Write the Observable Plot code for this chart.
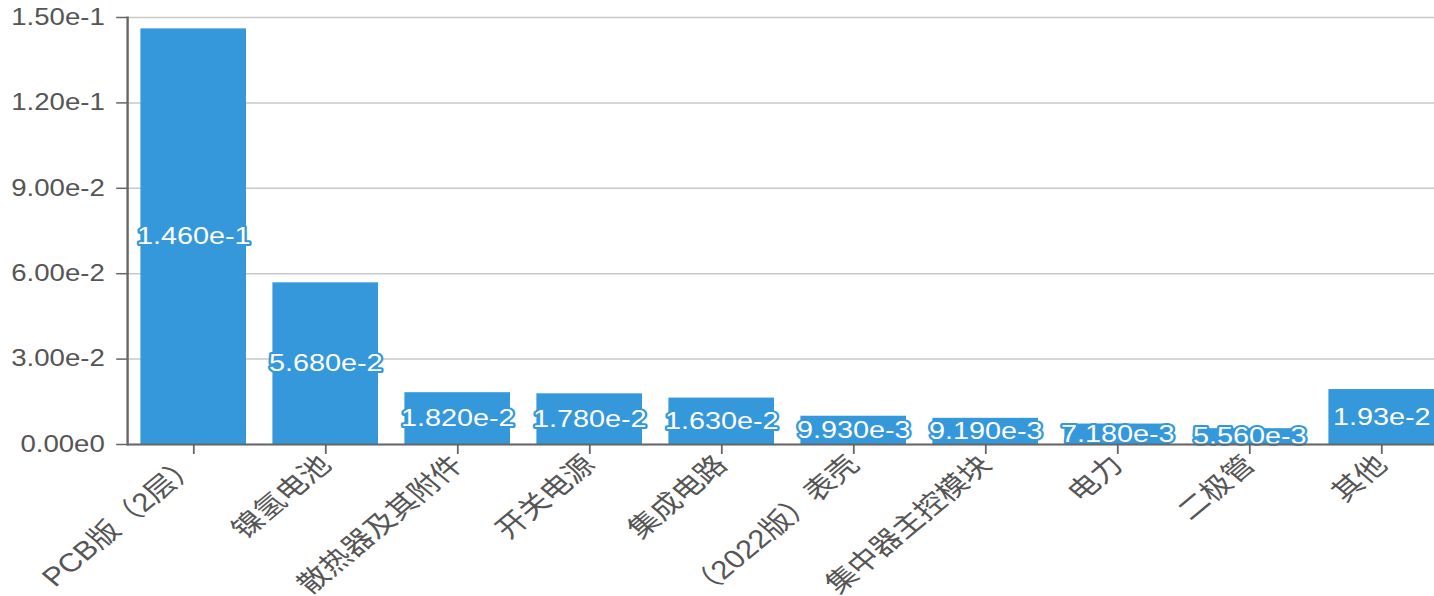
<!DOCTYPE html>
<html>
<head>
<meta charset="utf-8">
<script src="https://cdn.jsdelivr.net/npm/d3@7"></script>
<script src="https://cdn.jsdelivr.net/npm/@observablehq/plot@0.6"></script>
<style>
  html, body { margin: 0; padding: 0; background: #fff; overflow: hidden; }
  #chart { width: 1434px; height: 596px; overflow: hidden; }
  #chart svg { display: block; transform: scaleX(1.2); transform-origin: 0 0; overflow: visible; }
</style>
</head>
<body>
<div id="chart"></div>
<script>
const categories = ["PCB版（2层）", "镍氢电池", "散热器及其附件", "开关电源", "集成电路", "（2022版）表壳", "集中器主控模块", "电力", "二极管", "其他"];
const values = [0.146, 0.0568, 0.0182, 0.0178, 0.0163, 0.00993, 0.00919, 0.00718, 0.00556, 0.0193];
const valueLabels = ["1.460e-1", "5.680e-2", "1.820e-2", "1.780e-2", "1.630e-2", "9.930e-3", "9.190e-3", "7.180e-3", "5.560e-3", "1.93e-2"];
const yTicks = [0, 0.03, 0.06, 0.09, 0.12, 0.15];

const data = categories.map((c, i) => ({cat: c, value: values[i], label: valueLabels[i]}));
const fmt = d => d3.format(".2e")(d).replace("+", "");
const font = "'Liberation Sans', 'Noto Sans CJK SC', sans-serif";
const barColor = "#3498db";
const S = 1.2; // horizontal stretch of the reference picture

const chart = Plot.plot({
  width: Math.round(1434 / S),
  height: 596,
  marginLeft: 127 / S,
  marginRight: 0,
  marginTop: 17,
  marginBottom: 152,
  style: {fontFamily: font, fontSize: "23px", color: "#555", background: "#fff"},
  x: {domain: categories, range: [127 / S, 1447 / S], paddingInner: 0.2, paddingOuter: 0.1, label: null},
  y: {domain: [0, 0.15], label: null},
  marks: [
    Plot.gridY(yTicks, {stroke: "#c8c8c8", strokeOpacity: 1, strokeWidth: 1.5}),
    Plot.barY(data, {x: "cat", y: "value", fill: barColor}),
    Plot.text(data, {
      x: "cat", y: d => d.value / 2, text: "label",
      fill: "white", stroke: barColor, strokeWidth: 4,
      fontSize: 24, fontFamily: font
    }),
    Plot.axisY(yTicks, {tickFormat: fmt, tickSize: 9, tickPadding: 10, fontSize: 23, stroke: "#666", fill: "#555", strokeWidth: 1.5}),
    Plot.axisX({tickSize: 10, tickPadding: 6, tickRotate: -45, fontSize: 26, stroke: "#666", fill: "#555", strokeWidth: 1.5}),
    Plot.ruleY([0], {stroke: "#666", strokeWidth: 2}),
    Plot.frame({anchor: "left", stroke: "#666", strokeWidth: 2})
  ]
});
document.getElementById("chart").appendChild(chart);
</script>
</body>
</html>
